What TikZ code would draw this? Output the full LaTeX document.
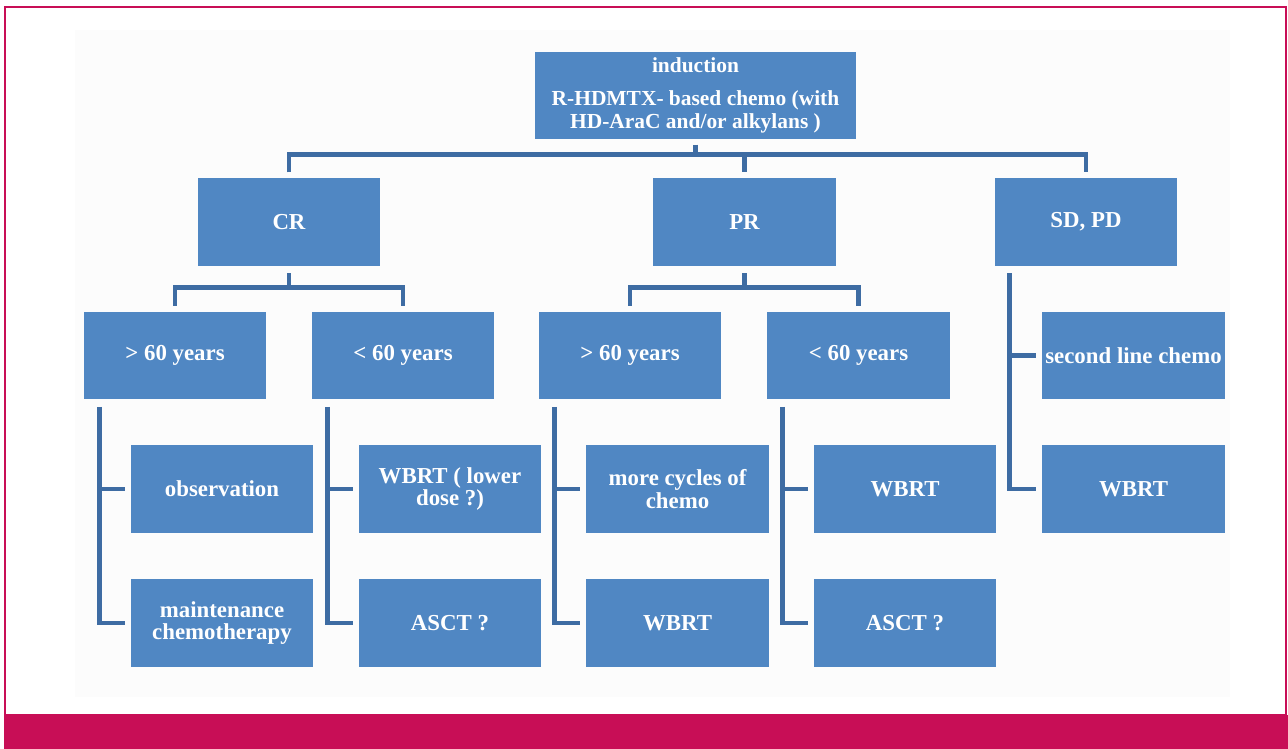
\documentclass[tikz,border=0pt]{standalone}
\usepackage{fontspec}
\setmainfont{Liberation Serif}
\usepackage{tikz}
\usetikzlibrary{calc}
\definecolor{boxBlue}{RGB}{80,135,195}
\definecolor{lineBlue}{RGB}{62,108,163}
\definecolor{frameMagenta}{RGB}{200,14,86}

\begin{document}
\begin{tikzpicture}[x=0.02cm, y=-0.02cm, style={line join=miter},
  box/.style={fill=boxBlue, text=white, font=\fontsize{13}{13}\selectfont\bfseries, align=center,
    minimum width=3.66cm, minimum height=1.76cm, inner sep=1pt},
  conn/.style={lineBlue, line width=2.7pt}]
  \useasboundingbox (0,0) rectangle (1288,749);
  % frame and bottom bar
  \fill[black!1] (75,30) rectangle (1230,697);
  \draw[frameMagenta, line width=1.4pt] (5,7) rectangle (1286,715);
  \fill[frameMagenta] (4,715) rectangle (1288,749);

  \node[box, minimum width=6.42cm, minimum height=1.74cm, font=\fontsize{12.2}{12.8}\selectfont\bfseries] (ind) at (695.5,95.5) {induction\\[6pt] R-HDMTX- based chemo (with\\ HD-AraC and/or alkylans )};

  \node[box] (cr) at (289,222) {CR};
  \node[box] (pr) at (744.5,222) {PR};
  \node[box] (sdpd) at (1086,222) {SD, PD};

  \node[box] (crOld) at (175,355.5) {> 60 years};
  \node[box] (crYoung) at (403,355.5) {< 60 years};
  \node[box] (prOld) at (630,355.5) {> 60 years};
  \node[box] (prYoung) at (858.5,355.5) {< 60 years};
  \node[box] (sdSecond) at (1133.5,355.5) {second line chemo};

  \node[box] (crObs) at (222,489) {observation};
  \node[box] (crMaint) at (222,623) {maintenance\\ chemotherapy};
  \node[box] (crWbrt) at (450,489) {WBRT ( lower\\ dose ?)};
  \node[box] (crAsct) at (450,623) {ASCT ?};
  \node[box] (prMore) at (677.5,489) {more cycles of\\ chemo};
  \node[box] (prWbrt) at (677.5,623) {WBRT};
  \node[box] (prYWbrt) at (905,489) {WBRT};
  \node[box] (prAsct) at (905,623) {ASCT ?};
  \node[box] (sdWbrt) at (1133.5,489) {WBRT};

  % first level
  \coordinate (bus) at ($(ind.south)+(0,15)$);
  \draw[conn, shorten <=3pt] (ind.south) -- (bus);
  \draw[conn, shorten <=3pt, shorten >=3pt] (cr.north) |- (bus) -| (sdpd.north);
  \draw[conn, shorten >=3pt] (pr.north |- bus) -- (pr.north);

  % age groups
  \coordinate (crBus) at ($(cr.south)+(0,21)$);
  \draw[conn, shorten <=4pt] (cr.south) -- (crBus);
  \draw[conn, shorten <=3pt, shorten >=3pt] (crOld.north) |- (crBus) -| (crYoung.north);
  \coordinate (prBus) at ($(pr.south)+(0,21)$);
  \draw[conn, shorten <=4pt] (pr.south) -- (prBus);
  \draw[conn, shorten <=3pt, shorten >=3pt] (prOld.north) |- (prBus) -| (prYoung.north);

  % side branches
  \coordinate (crOldL) at ([xshift=0.32cm]crOld.south west);
  \draw[conn, shorten <=4pt, shorten >=3pt] (crOldL) |- (crMaint.west);
  \draw[conn, shorten >=3pt] (crOldL |- crObs.west) -- (crObs.west);
  \coordinate (crYoungL) at ([xshift=0.32cm]crYoung.south west);
  \draw[conn, shorten <=4pt, shorten >=3pt] (crYoungL) |- (crAsct.west);
  \draw[conn, shorten >=3pt] (crYoungL |- crWbrt.west) -- (crWbrt.west);
  \coordinate (prOldL) at ([xshift=0.32cm]prOld.south west);
  \draw[conn, shorten <=4pt, shorten >=3pt] (prOldL) |- (prWbrt.west);
  \draw[conn, shorten >=3pt] (prOldL |- prMore.west) -- (prMore.west);
  \coordinate (prYoungL) at ([xshift=0.32cm]prYoung.south west);
  \draw[conn, shorten <=4pt, shorten >=3pt] (prYoungL) |- (prAsct.west);
  \draw[conn, shorten >=3pt] (prYoungL |- prYWbrt.west) -- (prYWbrt.west);
  \coordinate (sdL) at ([xshift=0.3cm]sdpd.south west);
  \draw[conn, shorten <=4pt, shorten >=3pt] (sdL) |- (sdWbrt.west);
  \draw[conn, shorten >=3pt] (sdL |- sdSecond.west) -- (sdSecond.west);
\end{tikzpicture}
\end{document}
